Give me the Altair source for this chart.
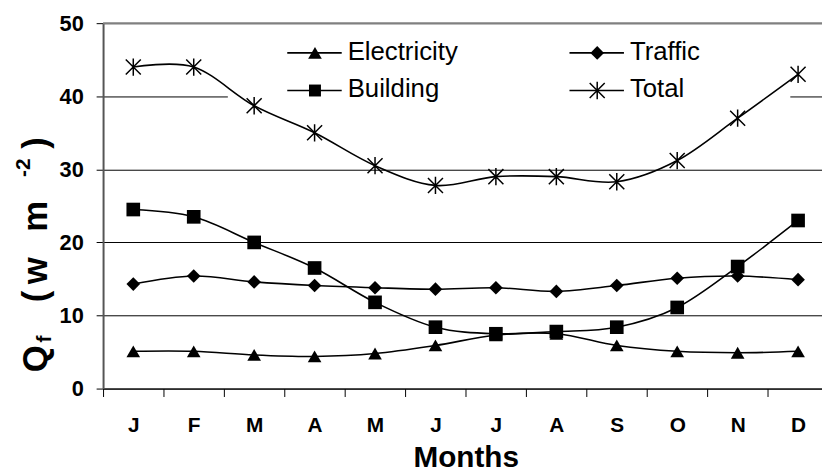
import json
import altair as alt
import pandas as pd

# ---------------- data ----------------
months = ["Jan", "Feb", "Mar", "Apr", "May", "Jun", "Jul", "Aug", "Sep", "Oct", "Nov", "Dec"]
month_labels = ["J", "F", "M", "A", "M", "J", "J", "A", "S", "O", "N", "D"]
electricity = [5.1, 5.1, 4.6, 4.4, 4.8, 5.9, 7.3, 7.5, 5.9, 5.1, 4.9, 5.1]
traffic = [14.3, 15.4, 14.6, 14.1, 13.8, 13.6, 13.8, 13.3, 14.1, 15.1, 15.4, 14.9]
building = [24.5, 23.5, 20.0, 16.5, 11.8, 8.4, 7.5, 7.8, 8.4, 11.1, 16.7, 23.0]
total = [44.0, 44.0, 38.7, 35.0, 30.5, 27.8, 29.0, 29.0, 28.3, 31.2, 37.0, 43.0]
series_names = ["Electricity", "Traffic", "Building", "Total"]
y_ticks = [0, 10, 20, 30, 40, 50]

series_values = {"Electricity": electricity, "Traffic": traffic,
                 "Building": building, "Total": total}
rows = []
for name in series_names:
    for m, v in zip(months, series_values[name]):
        rows.append({"month": m, "series": name, "value": v})
df = pd.DataFrame(rows)

# ---------------- styling ----------------
FONT = "Liberation Sans"
W, H = 726, 369
STEP = 61.03
STAR = "M-1,-1L1,1M-1,1L1,-1M0,-1.15L0,1.15"
shape_map = {"Electricity": "triangle-up", "Traffic": "diamond", "Building": "square"}
size_map = {"Electricity": 190, "Traffic": 190, "Building": 145}

label_expr = f"{json.dumps(month_labels)}[indexof({json.dumps(months)}, datum.value)]"

x_enc = alt.X(
    "month:N", sort=months,
    scale=alt.Scale(type="band", range=[0, STEP * 12], paddingInner=0, paddingOuter=0),
    axis=alt.Axis(title="Months", tickBand="extent", labelExpr=label_expr,
                  labelAngle=0, labelFont=FONT, labelFontSize=21, labelFontWeight="bold",
                  labelColor="black", labelPadding=18, labelOverlap=False,
                  tickSize=8, tickColor="black", tickWidth=1,
                  domainColor="black", domainWidth=1, grid=False,
                  titleFont=FONT, titleFontSize=30, titleFontWeight="bold",
                  titleColor="black", titlePadding=8),
)
y_enc = alt.Y(
    "value:Q",
    scale=alt.Scale(domain=[0, 50], nice=False, zero=True),
    axis=alt.Axis(title=None, values=y_ticks, labelFont=FONT, labelFontSize=22,
                  labelFontWeight="bold", labelColor="black", labelPadding=13,
                  tickSize=7, tickColor="black", tickWidth=1,
                  domainColor="#555555", domainWidth=2,
                  grid=True, gridColor="black", gridWidth=1),
)

one = pd.DataFrame({"a": [0]})

# legend background (covers the 40 grid line like the reference)
legend_bg = alt.Chart(one).mark_rect(fill="white").encode(
    x=alt.value(126), x2=alt.value(694), y=alt.value(8), y2=alt.value(86))

top_border = alt.Chart(one).mark_rule(color="#808080", strokeWidth=2).encode(
    x=alt.value(0), x2=alt.value(W), y=alt.value(0))

lines = alt.Chart(df).mark_line(interpolate="cardinal", color="black", strokeWidth=1.6).encode(
    x=x_enc, y=y_enc, detail="series:N")

filled_names = ["Electricity", "Traffic", "Building"]
points = alt.Chart(df).transform_filter(
    alt.FieldOneOfPredicate(field="series", oneOf=filled_names)
).mark_point(filled=True, color="black", opacity=1).encode(
    x=x_enc, y=y_enc,
    shape=alt.Shape("series:N", scale=alt.Scale(domain=filled_names,
                    range=[shape_map[n] for n in filled_names]), legend=None),
    size=alt.Size("series:N", scale=alt.Scale(domain=filled_names,
                  range=[size_map[n] for n in filled_names]), legend=None),
)
stars = alt.Chart(df).transform_filter(
    alt.datum.series == "Total"
).mark_point(shape=STAR, filled=False, stroke="black", strokeWidth=1.5,
             size=230, opacity=1).encode(x=x_enc, y=y_enc)

# manual legend (2 columns x 2 rows)
legend_layers = []
legend_order = [("Electricity", 0, 0), ("Traffic", 1, 0), ("Building", 0, 1), ("Total", 1, 1)]
for name, col, row in legend_order:
    cx = 214 + col * 285
    cy = 30 + row * 38
    legend_layers.append(alt.Chart(one).mark_rule(color="black", strokeWidth=1.6).encode(
        x=alt.value(cx - 28), x2=alt.value(cx + 27), y=alt.value(cy)))
    if name == "Total":
        legend_layers.append(alt.Chart(one).mark_point(
            shape=STAR, filled=False, stroke="black", strokeWidth=1.5, size=230, opacity=1
        ).encode(x=alt.value(cx), y=alt.value(cy)))
    else:
        legend_layers.append(alt.Chart(one).mark_point(
            shape=shape_map[name], filled=True, color="black", size=size_map[name], opacity=1
        ).encode(x=alt.value(cx), y=alt.value(cy)))
    legend_layers.append(alt.Chart(one).mark_text(
        text=name, font=FONT, fontSize=26, align="left", baseline="middle", color="black"
    ).encode(x=alt.value(cx + 33), y=alt.value(cy - 1)))

# y title built from pieces (subscript f, superscript -2)
title_pieces = [
    ("Q", 339, -57, 35), ("f", 319, -53, 21), ("(", 276, -57, 35), ("w", 250, -57, 35),
    ("m", 195, -57, 35), ("-2", 146, -74, 21), (")", 121, -57, 35),
]
title_layers = []
for txt, yy, xx, fs in title_pieces:
    title_layers.append(alt.Chart(one).mark_text(
        text=txt, font=FONT, fontSize=fs, fontWeight="bold", angle=270,
        align="center", baseline="alphabetic", color="black"
    ).encode(x=alt.value(xx), y=alt.value(yy)))

chart = alt.layer(
    legend_bg, lines, points, stars, top_border, *legend_layers, *title_layers
).properties(
    width=W, height=H,
    autosize=alt.AutoSizeParams(type="none"),
    padding={"left": 96, "top": 13, "right": 0, "bottom": 90},
).configure_view(stroke=None).configure(background="white")

chart.save("out.html", embed_options={"renderer": "svg", "actions": False})
